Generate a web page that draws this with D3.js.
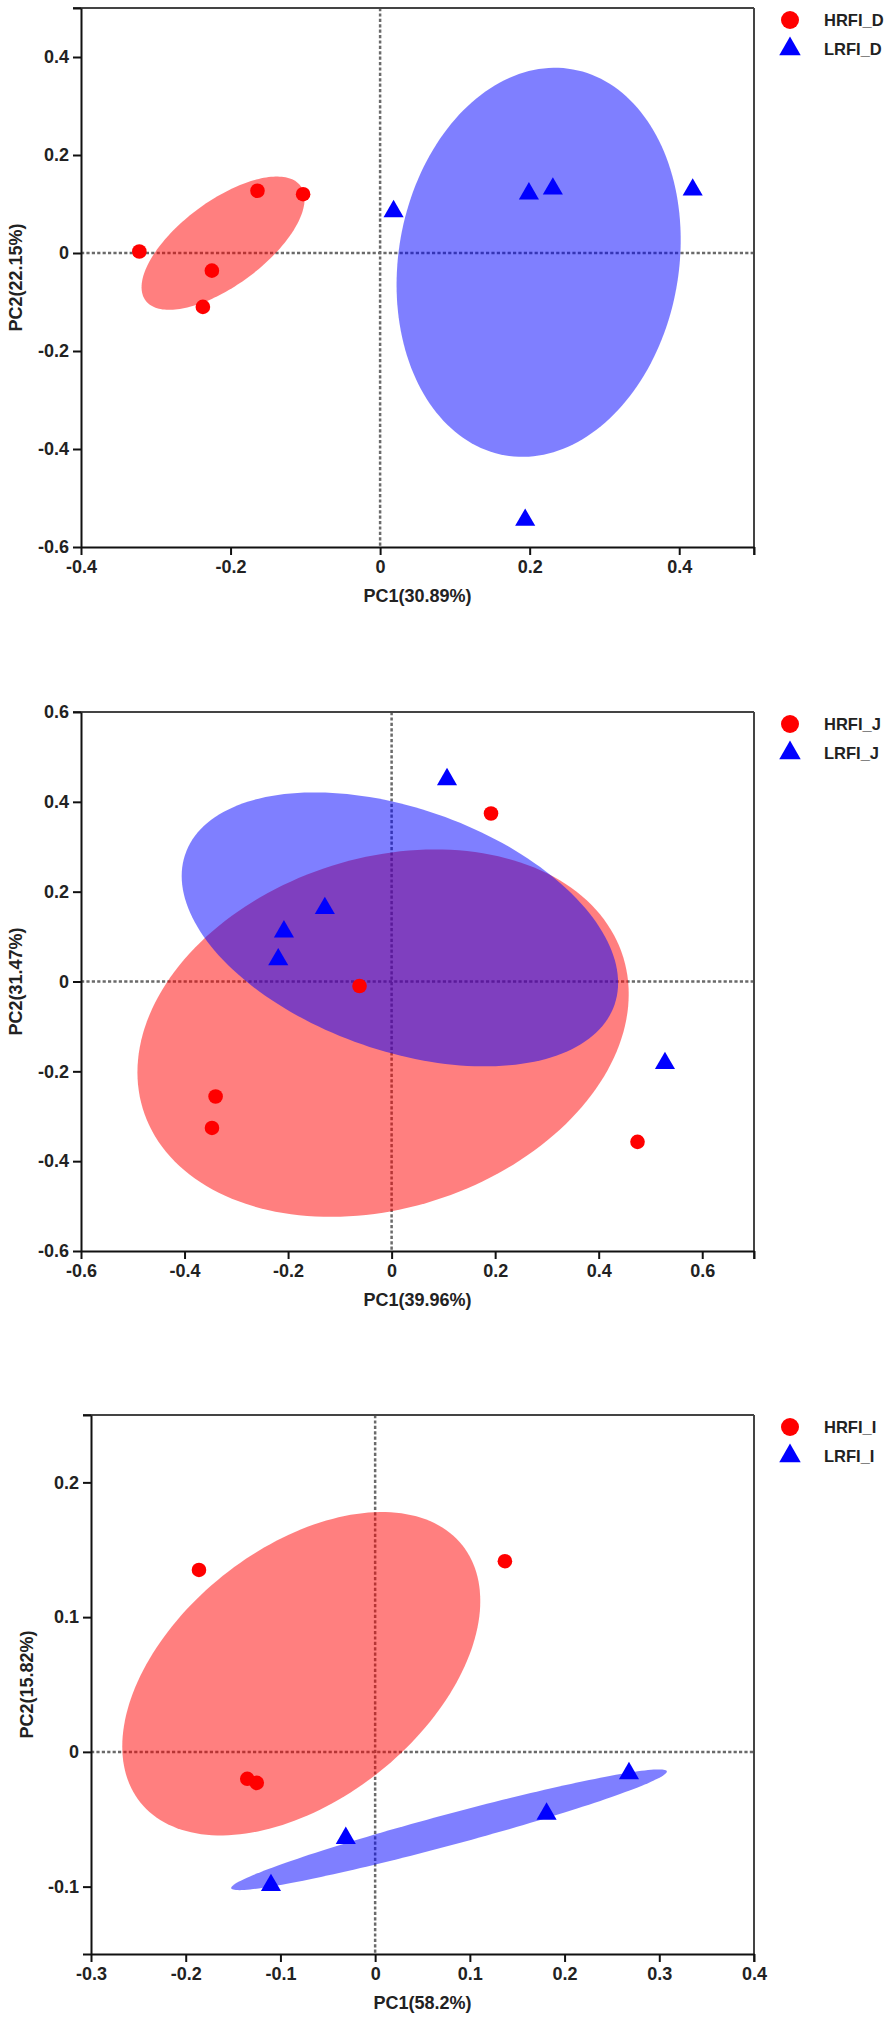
<!DOCTYPE html>
<html><head><meta charset="utf-8">
<script src="https://cdn.jsdelivr.net/npm/d3@7"></script>
<style>
html,body{margin:0;padding:0;background:#fff;}
svg text{font-family:"Liberation Sans",Arial,Helvetica,sans-serif;font-weight:bold;fill:#222;}
</style></head>
<body><svg id="c" width="886" height="2019"></svg>
<script>
// ---------- Data ----------
// Panel 1 (D)
const groupsD = ["HRFI_D", "LRFI_D"];
const HRFI_D = [[-0.322,0.003],[-0.225,-0.036],[-0.237,-0.110],[-0.164,0.127],[-0.103,0.120]];
const LRFI_D = [[0.018,0.085],[0.199,0.121],[0.231,0.131],[0.418,0.129],[0.194,-0.545]];
const ellD_H = {cx:-0.210, cy:0.020, sx:0.109, sy:0.136, r:0.66};
const ellD_L = {cx:0.212, cy:-0.019, sx:0.190, sy:0.397, r:0.115};
const xTicksD = [-0.4,-0.2,0,0.2,0.4], yTicksD = [-0.6,-0.4,-0.2,0,0.2,0.4];
const xDomD = [-0.4,0.5], yDomD = [-0.6,0.5];
const titlesD = ["PC1(30.89%)", "PC2(22.15%)"];

// Panel 2 (J)
const groupsJ = ["HRFI_J", "LRFI_J"];
const HRFI_J = [[0.192,0.374],[-0.062,-0.010],[-0.340,-0.256],[-0.347,-0.326],[0.475,-0.357]];
const LRFI_J = [[0.107,0.450],[-0.129,0.163],[-0.208,0.111],[-0.219,0.049],[0.528,-0.182]];
const ellJ_H = {cx:-0.0165, cy:-0.115, sx:0.4745, sy:0.409, r:0.213};
const ellJ_L = {cx:0.016, cy:0.116, sx:0.4215, sy:0.305, r:-0.39};
const xTicksJ = [-0.6,-0.4,-0.2,0,0.2,0.4,0.6], yTicksJ = [-0.6,-0.4,-0.2,0,0.2,0.4,0.6];
const xDomJ = [-0.6,0.7], yDomJ = [-0.6,0.6];
const titlesJ = ["PC1(39.96%)", "PC2(31.47%)"];

// Panel 3 (I)
const groupsI = ["HRFI_I", "LRFI_I"];
const HRFI_I = [[-0.186,0.135],[0.137,0.1415],[-0.135,-0.020],[-0.125,-0.023]];
const LRFI_I = [[0.268,-0.016],[0.181,-0.046],[-0.031,-0.064],[-0.110,-0.099]];
const ellI_H = {cx:-0.078, cy:0.058, sx:0.189, sy:0.120, r:0.45};
const ellI_L = {cx:0.078, cy:-0.0578, sx:0.230, sy:0.0448, r:0.964};
const xTicksI = [-0.3,-0.2,-0.1,0,0.1,0.2,0.3,0.4], yTicksI = [-0.1,0,0.1,0.2];
const xDomI = [-0.3,0.4], yDomI = [-0.15,0.25];
const titlesI = ["PC1(58.2%)", "PC2(15.82%)"];

// ---------- Layout ----------
const panels = [
  {box:{l:81,r:754,t:8,b:547}, ylabX:16, groups:groupsD, pts:[HRFI_D,LRFI_D], ell:[ellD_H,ellD_L], xt:xTicksD, yt:yTicksD, xd:xDomD, yd:yDomD, titles:titlesD},
  {box:{l:81,r:754,t:712,b:1251}, ylabX:16, groups:groupsJ, pts:[HRFI_J,LRFI_J], ell:[ellJ_H,ellJ_L], xt:xTicksJ, yt:yTicksJ, xd:xDomJ, yd:yDomJ, titles:titlesJ},
  {box:{l:91,r:754,t:1415,b:1954}, ylabX:27, groups:groupsI, pts:[HRFI_I,LRFI_I], ell:[ellI_H,ellI_L], xt:xTicksI, yt:yTicksI, xd:xDomI, yd:yDomI, titles:titlesI}
];
const fills = ["#ff0000", "#0000ff"];
const svg = d3.select("#c");
const fmt = v => (Math.abs(v) < 1e-9 ? "0" : String(+v.toFixed(2)));

function ellipsePts(e, n=180) {
  // Cholesky of covariance-like matrix in data space
  const l11 = e.sx, l21 = e.r*e.sy, l22 = e.sy*Math.sqrt(1 - e.r*e.r);
  return d3.range(n).map(i => {
    const t = 2*Math.PI*i/n, c = Math.cos(t), s = Math.sin(t);
    return [e.cx + l11*c, e.cy + l21*c + l22*s];
  });
}

panels.forEach((p, pi) => {
  const B = p.box;
  const x = d3.scaleLinear().domain(p.xd).range([B.l, B.r]);
  const y = d3.scaleLinear().domain(p.yd).range([B.b, B.t]);
  const g = svg.append("g");
  const clipId = "clip" + pi;
  g.append("clipPath").attr("id", clipId).append("rect")
    .attr("x", B.l).attr("y", B.t).attr("width", B.r - B.l).attr("height", B.b - B.t);
  const plot = g.append("g").attr("clip-path", `url(#${clipId})`);

  // zero dashed lines (beneath the ellipses)
  plot.append("line").attr("x1", B.l).attr("x2", B.r).attr("y1", y(0)).attr("y2", y(0))
    .attr("stroke", "#6a6a6a").attr("stroke-width", 2.5).attr("stroke-dasharray", "3.2,2.2");
  plot.append("line").attr("x1", x(0)).attr("x2", x(0)).attr("y1", B.t).attr("y2", B.b)
    .attr("stroke", "#6a6a6a").attr("stroke-width", 2.5).attr("stroke-dasharray", "3.2,2.2");

  // ellipses (red first, blue on top)
  const line = d3.line().x(d => x(d[0])).y(d => y(d[1])).curve(d3.curveLinearClosed);
  p.ell.forEach((e, k) => {
    plot.append("path").attr("d", line(ellipsePts(e)))
      .attr("fill", fills[k]).attr("fill-opacity", 0.5);
  });

  // points
  p.pts[0].forEach(d => {
    g.append("circle").attr("cx", x(d[0])).attr("cy", y(d[1])).attr("r", 7.3).attr("fill", fills[0]);
  });
  const tri = d3.symbol().type(d3.symbolTriangle).size(175);
  p.pts[1].forEach(d => {
    g.append("path").attr("d", tri()).attr("transform", `translate(${x(d[0])},${y(d[1])})`).attr("fill", fills[1]);
  });

  // top & right border
  g.append("line").attr("x1", B.l - 8).attr("x2", B.r).attr("y1", B.t).attr("y2", B.t)
    .attr("stroke", "#444").attr("stroke-width", 2);
  g.append("line").attr("x1", B.r).attr("x2", B.r).attr("y1", B.t).attr("y2", B.b + 8)
    .attr("stroke", "#444").attr("stroke-width", 2);

  // axes
  const xVals = Array.from(new Set(p.xt.concat(p.xd)));
  const yVals = Array.from(new Set(p.yt.concat(p.yd)));
  const xLab = new Set(p.xt.map(fmt)), yLab = new Set(p.yt.map(fmt));
  const xa = g.append("g").attr("transform", `translate(0,${B.b})`)
    .call(d3.axisBottom(x).tickValues(xVals).tickSize(8).tickSizeOuter(0).tickPadding(5)
      .tickFormat(v => xLab.has(fmt(v)) ? fmt(v) : ""));
  const ya = g.append("g").attr("transform", `translate(${B.l},0)`)
    .call(d3.axisLeft(y).tickValues(yVals).tickSize(8).tickSizeOuter(0).tickPadding(4)
      .tickFormat(v => yLab.has(fmt(v)) ? fmt(v) : ""));
  [xa, ya].forEach(a => {
    a.select(".domain").attr("stroke", "#111").attr("stroke-width", 2);
    a.selectAll(".tick line").attr("stroke", "#111").attr("stroke-width", 2);
    a.selectAll("text").style("font-size", "18px").attr("fill", "#222");
  });

  // axis titles
  g.append("text").attr("x", (B.l + B.r)/2).attr("y", B.b + 49).attr("dy", "0.35em")
    .attr("text-anchor", "middle").style("font-size", "18px").text(p.titles[0]);
  g.append("text").attr("transform", `translate(${p.ylabX},${(B.t + B.b)/2}) rotate(-90)`)
    .attr("dy", "0.35em").attr("text-anchor", "middle").style("font-size", "18px").text(p.titles[1]);

  // legend
  const lx = B.r + 36, ly = B.t + 12;
  g.append("circle").attr("cx", lx).attr("cy", ly).attr("r", 9).attr("fill", fills[0]);
  g.append("path").attr("d", d3.symbol().type(d3.symbolTriangle).size(200)())
    .attr("transform", `translate(${lx},${ly + 29})`).attr("fill", fills[1]);
  p.groups.forEach((name, k) => {
    g.append("text").attr("x", B.r + 70).attr("y", ly + k*29).attr("dy", "0.35em")
      .style("font-size", "16.5px").text(name);
  });
});
</script>
</body></html>
